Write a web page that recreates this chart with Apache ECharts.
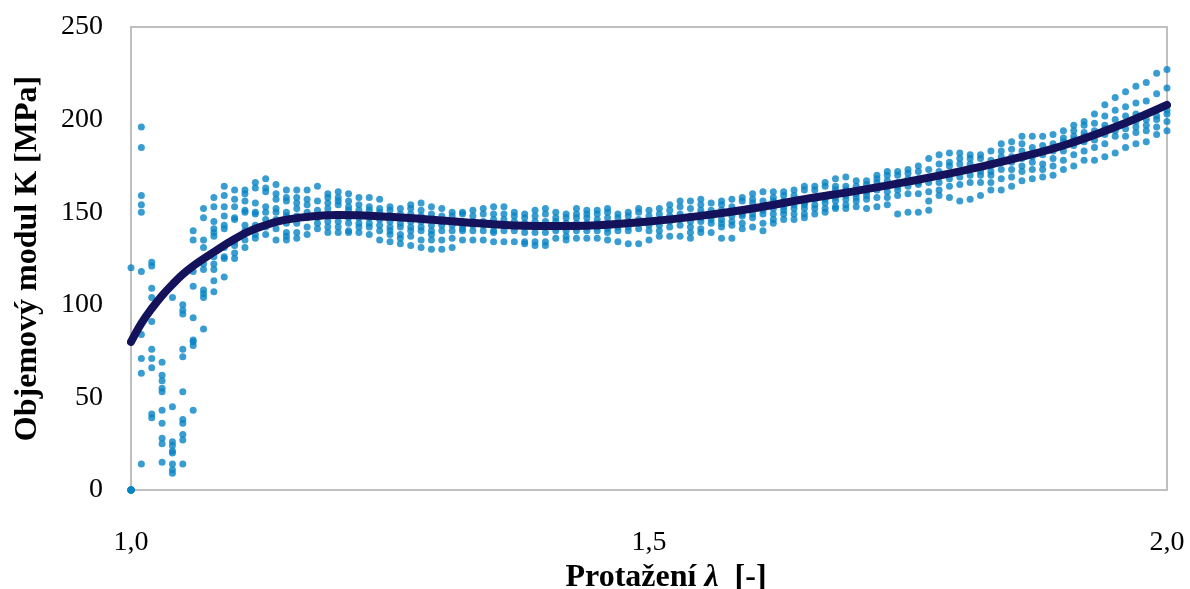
<!DOCTYPE html>
<html>
<head>
<meta charset="utf-8">
<script src="https://cdn.jsdelivr.net/npm/echarts@6/dist/echarts.min.js"></script>
<style>
  html, body { margin: 0; padding: 0; background: #ffffff; }
  #chart { width: 1190px; height: 589px; }
</style>
</head>
<body>
<div id="chart"></div>
<script>
// Stretch ratio λ at which every specimen was sampled
const lambdaValues = [
  1.00, 1.01, 1.02, 1.03, 1.04, 1.05, 1.06, 1.07, 1.08, 1.09,
  1.10, 1.11, 1.12, 1.13, 1.14, 1.15, 1.16, 1.17, 1.18, 1.19,
  1.20, 1.21, 1.22, 1.23, 1.24, 1.25, 1.26, 1.27, 1.28, 1.29,
  1.30, 1.31, 1.32, 1.33, 1.34, 1.35, 1.36, 1.37, 1.38, 1.39,
  1.40, 1.41, 1.42, 1.43, 1.44, 1.45, 1.46, 1.47, 1.48, 1.49,
  1.50, 1.51, 1.52, 1.53, 1.54, 1.55, 1.56, 1.57, 1.58, 1.59,
  1.60, 1.61, 1.62, 1.63, 1.64, 1.65, 1.66, 1.67, 1.68, 1.69,
  1.70, 1.71, 1.72, 1.73, 1.74, 1.75, 1.76, 1.77, 1.78, 1.79,
  1.80, 1.81, 1.82, 1.83, 1.84, 1.85, 1.86, 1.87, 1.88, 1.89,
  1.90, 1.91, 1.92, 1.93, 1.94, 1.95, 1.96, 1.97, 1.98, 1.99,
  2.00
];

// Measured bulk modulus K [MPa] of all specimens at each λ
const modulusK = [
  [120, 0, 0, 0, 0, 0, 0, 0],
  [196, 185, 159, 154, 150, 118, 84, 71, 63, 14],
  [123, 121, 109, 104, 91, 76, 71, 66, 41, 39],
  [69, 62, 59, 55, 53, 43, 36, 28, 25, 15],
  [104, 45, 26, 24, 21, 20, 14, 11, 9],
  [100, 97, 95, 76, 72, 53, 38, 36, 30, 27, 14],
  [140, 135, 118, 110, 93, 81, 80, 78, 43],
  [152, 147, 135, 131, 122, 119, 108, 106, 104, 87],
  [158, 153, 145, 141, 139, 137, 126, 122, 119, 113, 107],
  [164, 159, 153, 148, 143, 141, 131, 126, 125, 115],
  [162, 157, 153, 147, 146, 134, 132, 128, 125],
  [162, 160, 156, 151, 150, 143, 140, 135, 131],
  [166, 163, 155, 150, 149, 143, 141, 138, 136],
  [168, 163, 161, 153, 150, 146, 142, 138],
  [165, 160, 157, 152, 150, 146, 141, 135],
  [162, 158, 156, 150, 148, 144, 139, 137, 135],
  [162, 158, 155, 152, 148, 144, 139, 136],
  [162, 157, 154, 150, 147, 142, 138],
  [164, 156, 151, 147, 144, 141],
  [160, 158, 155, 152, 148, 145, 142, 139],
  [161, 158, 156, 154, 148, 145, 142, 139],
  [160, 156, 153, 151, 147, 144, 140, 139],
  [158, 154, 151, 147, 144, 142, 139],
  [158, 153, 151, 147, 144, 142, 138],
  [157, 152, 150, 146, 143, 140, 135],
  [153, 151, 148, 145, 142, 140, 138, 134],
  [152, 149, 147, 144, 142, 138, 136, 133],
  [154, 152, 149, 145, 142, 140, 137, 132],
  [155, 151, 148, 145, 142, 140, 135, 131],
  [153, 149, 146, 143, 140, 138, 135, 130],
  [152, 148, 145, 143, 140, 135, 130],
  [150, 148, 145, 143, 140, 136, 131],
  [150, 149, 145, 143, 141, 140, 135],
  [151, 148, 145, 143, 140, 135],
  [152, 149, 145, 143, 140, 135],
  [153, 149, 146, 143, 140, 139, 134],
  [153, 149, 146, 143, 140, 134],
  [150, 148, 145, 143, 140, 134],
  [149, 147, 144, 142, 139, 134, 133],
  [151, 148, 145, 142, 139, 134, 132],
  [152, 149, 145, 142, 139, 134, 132],
  [150, 147, 145, 142, 140, 136],
  [149, 147, 144, 142, 140, 137, 135],
  [152, 149, 147, 144, 142, 140, 136],
  [151, 149, 147, 144, 142, 140, 136],
  [151, 149, 146, 144, 142, 140, 136],
  [152, 150, 147, 144, 141, 139, 135],
  [149, 147, 144, 142, 140, 134],
  [150, 148, 145, 142, 140, 133],
  [152, 150, 146, 144, 141, 133],
  [151, 148, 145, 143, 140, 135],
  [152, 149, 146, 143, 140, 137],
  [154, 151, 148, 145, 142, 137],
  [156, 153, 149, 146, 143, 137],
  [156, 152, 148, 145, 142, 139, 136],
  [157, 154, 151, 149, 147, 145, 141, 139],
  [155, 151, 148, 146, 144, 139],
  [156, 154, 151, 149, 146, 144, 142, 136],
  [157, 153, 150, 148, 145, 143, 136],
  [158, 156, 151, 149, 148, 144, 141],
  [160, 157, 155, 152, 149, 147, 142],
  [161, 156, 153, 151, 149, 144, 140],
  [161, 158, 156, 152, 149, 146, 144],
  [161, 159, 156, 153, 151, 149, 146],
  [162, 159, 154, 152, 149, 146],
  [164, 162, 155, 154, 152, 149, 147],
  [164, 162, 157, 154, 152, 149],
  [166, 164, 159, 157, 155, 152, 150],
  [168, 164, 162, 158, 156, 153, 152],
  [169, 164, 162, 159, 157, 154, 152],
  [167, 164, 160, 158, 156, 153],
  [167, 165, 161, 159, 157, 152],
  [170, 168, 166, 162, 158, 153],
  [172, 170, 167, 164, 161, 158, 154],
  [172, 170, 166, 164, 162, 159, 149],
  [173, 171, 168, 166, 164, 160, 150],
  [175, 172, 168, 166, 165, 160, 150],
  [179, 173, 169, 166, 161, 156, 151],
  [181, 176, 172, 169, 166, 162, 159],
  [182, 177, 175, 171, 168, 164, 158],
  [182, 179, 176, 172, 169, 165, 156],
  [181, 179, 176, 173, 170, 166, 157],
  [181, 179, 174, 172, 170, 166, 159],
  [183, 178, 175, 172, 170, 166, 162],
  [187, 183, 180, 177, 173, 168, 162],
  [188, 184, 180, 177, 173, 169, 164],
  [191, 187, 183, 179, 175, 172, 167],
  [191, 185, 182, 180, 177, 173, 168],
  [191, 186, 183, 181, 176, 173, 169],
  [192, 187, 185, 183, 179, 175, 170],
  [194, 190, 188, 186, 183, 178, 173],
  [197, 194, 191, 189, 186, 181, 175],
  [199, 197, 193, 191, 188, 183, 178],
  [203, 198, 194, 192, 189, 185, 178],
  [208, 202, 197, 195, 192, 187, 180],
  [212, 205, 200, 196, 194, 191, 182],
  [215, 207, 202, 198, 195, 191, 185],
  [218, 209, 203, 199, 196, 193, 187],
  [220, 210, 203, 200, 197, 194, 188],
  [225, 214, 205, 202, 200, 196, 192],
  [227, 217, 208, 205, 203, 199, 194]
];

// Fitted trend of K over λ
const trendLambda = [1.00, 1.01, 1.02, 1.03, 1.04, 1.05, 1.06, 1.08, 1.10, 1.12, 1.15,
  1.20, 1.25, 1.30, 1.35, 1.40, 1.45, 1.50, 1.55, 1.60, 1.65, 1.70, 1.75, 1.80, 1.85,
  1.90, 1.95, 2.00];
const trendK = [80, 90, 98, 105, 111, 116.5, 121, 128.5, 135.5, 141, 146,
  148.5, 147.5, 145.5, 143.5, 142.5, 143, 145, 148, 152, 157, 161.5, 166.5, 172, 178.5,
  186, 196, 208];

// Axis tick labels
const yTicks = [0, 50, 100, 150, 200, 250];
const xTicks = [1.0, 1.5, 2.0];

const serif = '"Liberation Serif", "Times New Roman", serif';

const scatterPoints = [];
lambdaValues.forEach((lam, i) => {
  modulusK[i].forEach(k => scatterPoints.push([lam, k]));
});
const trendPoints = trendLambda.map((lam, i) => [lam, trendK[i]]);

const chart = echarts.init(document.getElementById('chart'), null, { renderer: 'canvas' });
chart.setOption({
  backgroundColor: '#ffffff',
  animation: false,
  grid: {
    left: 131, right: 23, top: 27, bottom: 99,
    outerBoundsMode: 'none',
    containLabel: false,
    show: true, borderColor: '#bfbfbf', borderWidth: 2, backgroundColor: 'transparent'
  },
  xAxis: {
    type: 'value',
    min: xTicks[0], max: xTicks[xTicks.length - 1], interval: 0.5,
    axisLine: { show: true, lineStyle: { color: '#bfbfbf', width: 2 } },
    axisTick: { show: false },
    splitLine: { show: false },
    axisLabel: {
      margin: 39, color: '#000', fontFamily: serif, fontSize: 28,
      formatter: v => v.toFixed(1).replace('.', ',')
    },
    name: '{b|Protažení }{l|λ}{b|  [-]}',
    nameLocation: 'middle', nameGap: 69,
    nameTextStyle: {
      padding: [0, 0, 0, 34],
      rich: {
        b: { fontFamily: serif, fontWeight: 'bold', fontSize: 32, color: '#000' },
        l: { fontFamily: serif, fontWeight: 'bold', fontStyle: 'italic', fontSize: 32, color: '#000' }
      }
    }
  },
  yAxis: {
    type: 'value',
    min: yTicks[0], max: yTicks[yTicks.length - 1], interval: 50,
    axisLine: { show: true, lineStyle: { color: '#bfbfbf', width: 2 } },
    axisTick: { show: false },
    splitLine: { show: false },
    axisLabel: { margin: 28, color: '#000', fontFamily: serif, fontSize: 28 },
    name: 'Objemový modul K [MPa]',
    nameLocation: 'middle', nameGap: 87,
    nameTextStyle: { fontFamily: serif, fontWeight: 'bold', fontSize: 32, color: '#000', padding: [0, 0, 0, 0] }
  },
  series: [
    {
      type: 'scatter',
      data: scatterPoints,
      symbol: 'circle',
      symbolSize: 7,
      itemStyle: { color: '#0784c6' },
      z: 2
    },
    {
      type: 'line',
      data: trendPoints,
      smooth: 0.4,
      showSymbol: false,
      lineStyle: { color: '#13125a', width: 8, cap: 'round' },
      z: 3
    }
  ]
});
</script>
</body>
</html>
